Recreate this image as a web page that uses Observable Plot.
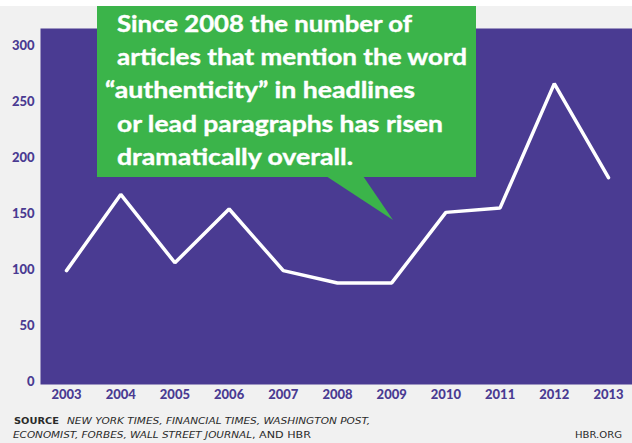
<!DOCTYPE html>
<html>
<head>
<meta charset="utf-8">
<script src="https://cdn.jsdelivr.net/npm/d3@7"></script>
<script src="https://cdn.jsdelivr.net/npm/@observablehq/plot@0.6"></script>
<style>
  body { margin: 0; background: #f1f1f1; }
  #wrap { position: relative; width: 632px; height: 443px; overflow: hidden; background: #f1f1f1; }
  #topstrip { position: absolute; left: 0; top: 0; width: 632px; height: 6px; background: #ffffff; }
  #chart { position: absolute; left: 0; top: 0; }
  #callout { position: absolute; left: 0; top: 0; }
  #caption { position: absolute; left: 0; top: 402px; }
</style>
</head>
<body>
<div id="wrap">
  <div id="topstrip"></div>
  <div id="chart"></div>
  <svg id="callout" width="632" height="230"></svg>
  <svg id="caption" width="632" height="41"></svg>
</div>
<script>
// ---- data ----
const years = [2003, 2004, 2005, 2006, 2007, 2008, 2009, 2010, 2011, 2012, 2013];
const counts = [99, 167, 106, 154, 99, 88, 88, 151, 155, 266, 182];
const yTicks = [0, 50, 100, 150, 200, 250, 300];
const calloutLines = [
  "Since 2008 the number of",
  "articles that mention the word",
  "\u201Cauthenticity\u201D in headlines",
  "or lead paragraphs has risen",
  "dramatically overall."
];
const sourceLabel = "SOURCE";
const sourceLine1 = "NEW YORK TIMES, FINANCIAL TIMES, WASHINGTON POST,";
const sourceLine2Italic = "ECONOMIST, FORBES, WALL STREET JOURNAL";
const sourceLine2Rest = ", AND HBR";
const credit = "HBR.ORG";

const purple = "#4a3b92";
const green = "#3bb44a";

const data = years.map((year, i) => ({year, count: counts[i]}));

const chart = Plot.plot({
  width: 632,
  height: 402,
  marginLeft: 40,
  marginRight: 0,
  marginTop: 28,
  marginBottom: 18,
  style: {
    background: "transparent",
    color: purple,
    fontFamily: "Lato, 'Open Sans', sans-serif",
    fontWeight: "900",
    fontSize: "13px"
  },
  x: {
    domain: [2002.52, 2013.443],
    ticks: years,
    tickFormat: d => String(d),
    tickSize: 0,
    tickPadding: 5,
    label: null
  },
  y: {
    domain: [-2.68, 315.18],
    ticks: yTicks,
    tickSize: 0,
    tickPadding: 6,
    label: null
  },
  marks: [
    Plot.frame({fill: purple, stroke: null}),
    Plot.line(data, {
      x: "year",
      y: "count",
      stroke: "white",
      strokeWidth: 3.5,
      strokeLinejoin: "miter",
      strokeLinecap: "round"
    })
  ]
});
document.getElementById("chart").appendChild(chart);

// ---- callout annotation ----
const ns = "http://www.w3.org/2000/svg";
const co = document.getElementById("callout");
function el(parent, name, attrs, text) {
  const e = document.createElementNS(ns, name);
  for (const k in attrs) e.setAttribute(k, attrs[k]);
  if (text != null) e.textContent = text;
  parent.appendChild(e);
  return e;
}
el(co, "rect", {x: 97, y: 6, width: 379, height: 171, fill: green});
el(co, "polygon", {points: "326,176 363,176 393,220", fill: green});
const lineX = [117, 117, 105, 117, 117];
const lineW = [295, 350, 310, 326, 236];
const lineY = [32, 65, 98, 132, 165];
calloutLines.forEach((t, i) => {
  el(co, "text", {
    x: lineX[i], y: lineY[i],
    fill: "white",
    stroke: "white",
    "stroke-width": 0.4,
    "font-family": "Lato, 'Open Sans', sans-serif",
    "font-weight": "700",
    "font-size": "23",
    textLength: lineW[i],
    lengthAdjust: "spacingAndGlyphs"
  }, t);
});

// ---- caption ----
const cap = document.getElementById("caption");
const capFont = {"font-family": "'DejaVu Sans', sans-serif", "font-size": "9.5", fill: "#2a2a2a"};
el(cap, "text", Object.assign({x: 14, y: 22, "font-weight": "700", textLength: 45, lengthAdjust: "spacingAndGlyphs"}, capFont), sourceLabel);
el(cap, "text", Object.assign({x: 67, y: 22, "font-style": "italic", textLength: 303, lengthAdjust: "spacingAndGlyphs"}, capFont), sourceLine1);
el(cap, "text", Object.assign({x: 13, y: 36, "font-style": "italic", textLength: 239, lengthAdjust: "spacingAndGlyphs"}, capFont), sourceLine2Italic);
el(cap, "text", Object.assign({x: 252, y: 36, textLength: 59, lengthAdjust: "spacingAndGlyphs"}, capFont), sourceLine2Rest);
el(cap, "text", Object.assign({x: 575, y: 36, textLength: 47, lengthAdjust: "spacingAndGlyphs"}, capFont), credit);
</script>
</body>
</html>
